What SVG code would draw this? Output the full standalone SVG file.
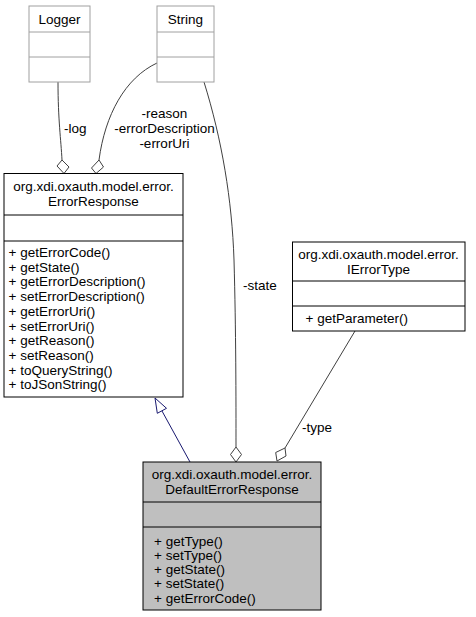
<svg xmlns="http://www.w3.org/2000/svg" width="476" height="617" viewBox="0 0 476 617">
<style>
text{font-family:"Liberation Sans",Arial,sans-serif;font-size:13.5px;fill:#000}
.c{text-anchor:middle}
.box{fill:#fff;stroke:#000;stroke-width:1}
.gbox{fill:#fff;stroke:#a0a0a0;stroke-width:1}
.sel{fill:#bfbfbf;stroke:#000;stroke-width:1}
.sep{stroke:#000;stroke-width:1}
.gsep{stroke:#a0a0a0;stroke-width:1}
.edge{fill:none;stroke:#404040;stroke-width:1}
.dia{fill:#fff;stroke:#404040;stroke-width:1}
.inh{fill:none;stroke:#191970;stroke-width:1}
.tri{fill:#fff;stroke:#191970;stroke-width:1}
</style>
<rect width="476" height="617" fill="#fff"/>
<g id="connectors">
<path class="edge" d="M58,82 C58,120 61,140 62,160"/>
<polygon class="dia" points="62,160 69,167 64,173.5 57,166"/>
<path class="edge" d="M157,63 C125,78 105,115 99,160"/>
<polygon class="dia" points="99,160 103.5,167 96,173.5 91.5,168"/>
<path class="edge" d="M204,82 C222,140 232,200 234,260 C236,330 236,400 236,447"/>
<polygon class="dia" points="236,447 241.5,454.5 236,462 230.5,454.5"/>
<path class="edge" d="M355,331 L285,448"/>
<polygon class="dia" points="285,448 286,456 277,461 275.7,452.5"/>
<path class="inh" d="M190,462 L162,411"/>
<polygon class="tri" points="155,398 166.5,408.3 157.3,413.3"/>
<text x="64" y="132.5">-log</text>
<text class="c" x="164.5" y="117.5">-reason</text>
<text class="c" x="164.5" y="132.5">-errorDescription</text>
<text class="c" x="164.5" y="147.5">-errorUri</text>
<text x="243" y="290">-state</text>
<text x="302" y="431.5">-type</text>
</g>
<g id="Logger">
<rect class="gbox" x="29" y="6" width="61" height="76"/>
<line class="gsep" x1="29" y1="32" x2="90" y2="32"/>
<line class="gsep" x1="29" y1="57" x2="90" y2="57"/>
<text class="c" x="59.5" y="23.5">Logger</text>
</g>
<g id="String">
<rect class="gbox" x="157" y="6" width="57" height="76"/>
<line class="gsep" x1="157" y1="32" x2="214" y2="32"/>
<line class="gsep" x1="157" y1="57" x2="214" y2="57"/>
<text class="c" x="185.5" y="23.5">String</text>
</g>
<g id="ErrorResponse">
<rect class="box" x="4" y="173.5" width="179" height="223.5"/>
<line class="sep" x1="4" y1="215" x2="183" y2="215"/>
<line class="sep" x1="4" y1="241" x2="183" y2="241"/>
<text class="c" x="93.5" y="191">org.xdi.oxauth.model.error.</text>
<text class="c" x="93.5" y="206">ErrorResponse</text>
<text x="8.5" y="257">+ getErrorCode()</text>
<text x="8.5" y="271.7">+ getState()</text>
<text x="8.5" y="286.4">+ getErrorDescription()</text>
<text x="8.5" y="301.1">+ setErrorDescription()</text>
<text x="8.5" y="315.8">+ getErrorUri()</text>
<text x="8.5" y="330.5">+ setErrorUri()</text>
<text x="8.5" y="345.2">+ getReason()</text>
<text x="8.5" y="359.9">+ setReason()</text>
<text x="8.5" y="374.6">+ toQueryString()</text>
<text x="8.5" y="389.3">+ toJSonString()</text>
</g>
<g id="IErrorType">
<rect class="box" x="292.5" y="242" width="172.5" height="89"/>
<line class="sep" x1="292.5" y1="281" x2="465" y2="281"/>
<line class="sep" x1="292.5" y1="306" x2="465" y2="306"/>
<text class="c" x="378.5" y="258.5">org.xdi.oxauth.model.error.</text>
<text class="c" x="378.5" y="273.5">IErrorType</text>
<text x="305.5" y="323">+ getParameter()</text>
</g>
<g id="DefaultErrorResponse">
<rect class="sel" x="143" y="462" width="178" height="148"/>
<line class="sep" x1="143" y1="502" x2="321" y2="502"/>
<line class="sep" x1="143" y1="527" x2="321" y2="527"/>
<text class="c" x="232" y="479">org.xdi.oxauth.model.error.</text>
<text class="c" x="232" y="494">DefaultErrorResponse</text>
<text x="154" y="545.5">+ getType()</text>
<text x="154" y="559.8">+ setType()</text>
<text x="154" y="574">+ getState()</text>
<text x="154" y="588.3">+ setState()</text>
<text x="154" y="602.5">+ getErrorCode()</text>
</g>
</svg>
